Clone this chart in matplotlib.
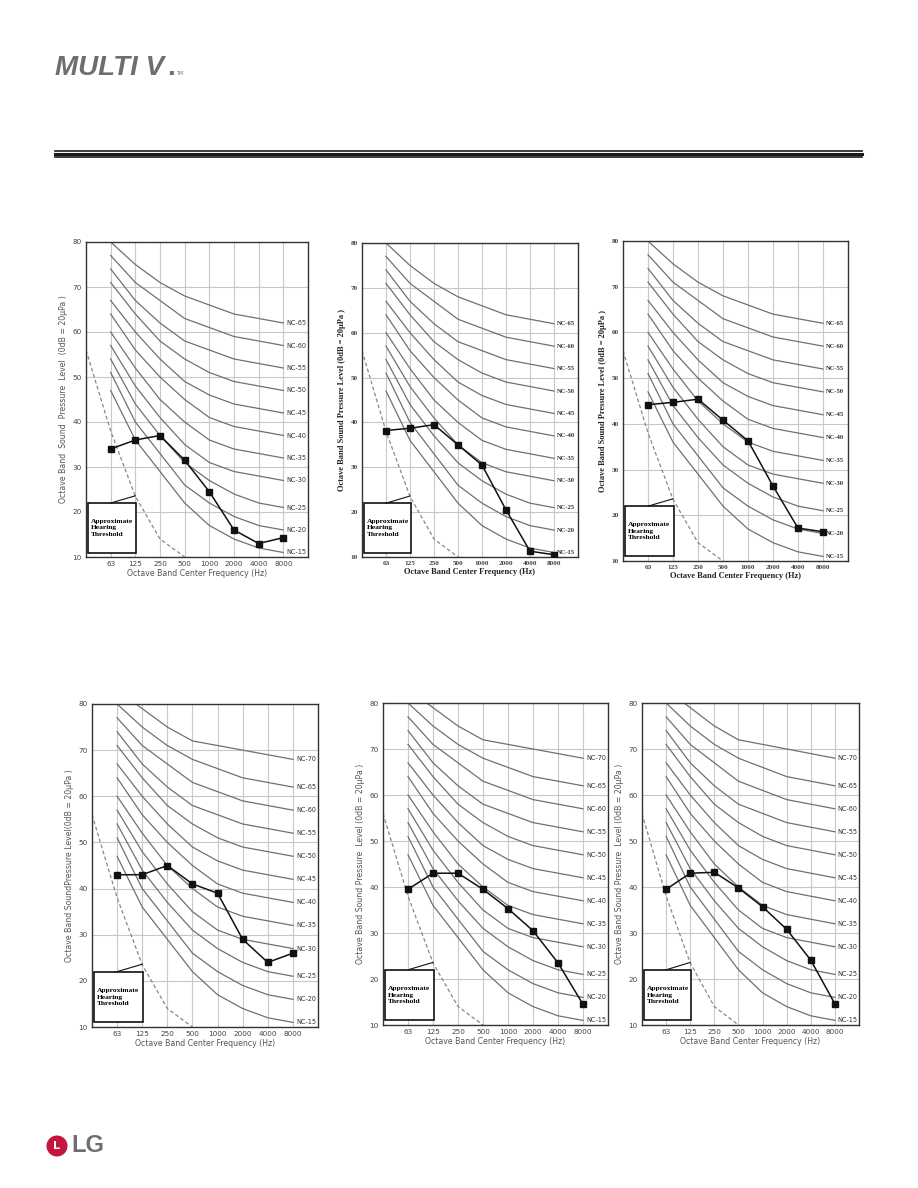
import matplotlib
matplotlib.use("Agg")
import matplotlib.pyplot as plt
from matplotlib.patches import Circle, Rectangle
from matplotlib.lines import Line2D

# ---------------- data ----------------
freq_labels = ['63', '125', '250', '500', '1000', '2000', '4000', '8000']

NC_15 = [47, 36, 29, 22, 17, 14, 12, 11]
NC_20 = [51, 40, 33, 26, 22, 19, 17, 16]
NC_25 = [54, 44, 37, 31, 27, 24, 22, 21]
NC_30 = [57, 48, 41, 35, 31, 29, 28, 27]
NC_35 = [60, 52, 45, 40, 36, 34, 33, 32]
NC_40 = [64, 56, 50, 45, 41, 39, 38, 37]
NC_45 = [67, 60, 54, 49, 46, 44, 43, 42]
NC_50 = [71, 64, 58, 54, 51, 49, 48, 47]
NC_55 = [74, 67, 62, 58, 56, 54, 53, 52]
NC_60 = [77, 71, 67, 63, 61, 59, 58, 57]
NC_65 = [80, 75, 71, 68, 66, 64, 63, 62]
NC_70 = [83, 79, 75, 72, 71, 70, 69, 68]
nc_names = ['NC-15', 'NC-20', 'NC-25', 'NC-30', 'NC-35', 'NC-40',
            'NC-45', 'NC-50', 'NC-55', 'NC-60', 'NC-65', 'NC-70']
nc_curves = [NC_15, NC_20, NC_25, NC_30, NC_35, NC_40,
             NC_45, NC_50, NC_55, NC_60, NC_65, NC_70]

# approximate hearing threshold (left edge, 63, 125, 250, 500 Hz)
threshold_values = [56, 38, 23.5, 14, 10]

unit_1 = [34.0, 36.0, 37.0, 31.5, 24.5, 16.0, 13.0, 14.3]
unit_2 = [38.2, 38.7, 39.5, 35.0, 30.5, 20.5, 11.3, 10.5]
unit_3 = [44.2, 44.7, 45.4, 40.8, 36.3, 26.4, 17.2, 16.4]
unit_4 = [43.0, 43.0, 45.0, 41.0, 39.0, 29.0, 24.0, 26.0]
unit_5 = [39.5, 43.0, 43.0, 39.5, 35.3, 30.5, 23.5, 14.5]
unit_6 = [39.5, 43.0, 43.2, 39.8, 35.7, 30.8, 24.1, 14.6]

y_ticks = [10, 20, 30, 40, 50, 60, 70, 80]

W, H = 918, 1188
fig = plt.figure(figsize=(W / 100, H / 100), dpi=100)


def add_ax(x0, y0, x1, y1):
    return fig.add_axes([x0 / W, 1 - y1 / H, (x1 - x0) / W, (y1 - y0) / H])


def draw_chart(ax, values, n_nc, serif, ylabel):
    fam = 'Liberation Serif' if serif else 'DejaVu Sans'
    wt = 'bold' if serif else 'normal'
    lab_col = '#222222' if serif else '#555555'
    x = list(range(1, len(freq_labels) + 1))
    ax.set_xlim(0, 9)
    ax.set_ylim(10, 80)
    for xv in x:
        ax.axvline(xv, color='#c8c8c8', lw=0.8, zorder=0)
    for yv in y_ticks:
        ax.axhline(yv, color='#c8c8c8', lw=0.8, zorder=0)
    for name, curve in list(zip(nc_names, nc_curves))[:n_nc]:
        ax.plot(x, curve, color='#707070', lw=0.9, zorder=1)
        ax.text(8.12, curve[-1], name, fontsize=4.7, ha='left', va='center',
                family=fam, weight=wt, color='#333333', clip_on=True)
    ax.plot(range(len(threshold_values)), threshold_values, color='#888888',
            lw=0.9, ls=(0, (3, 2)), zorder=1)
    ax.plot(x, values, color='#111111', lw=1.1, marker='s', ms=4.2,
            mfc='#111111', mec='#111111', zorder=3)
    # hearing threshold annotation
    ax.add_patch(Rectangle((0.08, 11), 1.95, 11, facecolor='white',
                           edgecolor='#111111', lw=1.2, zorder=4))
    ax.text(0.2, 16.5, 'Approximate\nHearing\nThreshold', fontsize=5.4,
            family='Liberation Serif', weight='bold', ha='left', va='center',
            linespacing=1.35, zorder=5)
    ax.add_line(Line2D([1.0, 2.0], [22, 23.6], color='#111111', lw=0.8, zorder=4))
    ax.set_xticks(x)
    ax.set_xticklabels(freq_labels)
    ax.set_yticks(y_ticks)
    ax.tick_params(length=0, labelsize=5.2, pad=3, labelcolor='#444444')
    for lbl in ax.get_xticklabels() + ax.get_yticklabels():
        lbl.set_family(fam)
        lbl.set_weight(wt)
    ax.set_xlabel('Octave Band Center Frequency (Hz)', fontsize=6 if serif else 5.6,
                  family=fam, weight=wt, color=lab_col, labelpad=1)
    ax.set_ylabel(ylabel, fontsize=6 if serif else 5.6, family=fam, weight=wt,
                  color=lab_col, labelpad=3)
    for s in ax.spines.values():
        s.set_color('#333333')
        s.set_linewidth(1.0)


charts = [
    ((86, 242, 308, 557), unit_1, 11, False, 'Octave Band  Sound  Pressure  Level  (0dB = 20μPa )'),
    ((362, 243, 578, 557), unit_2, 11, True, 'Octave Band Sound Pressure Level (0dB = 20μPa )'),
    ((623, 241, 848, 561), unit_3, 11, True, 'Octave Band Sound Pressure Level (0dB = 20μPa )'),
    ((92, 704, 318, 1027), unit_4, 12, False, 'Octave Band SoundPressure Level(0dB = 20μPa )'),
    ((383, 703, 608, 1025), unit_5, 12, False, 'Octave Band Sound Pressure  Level (0dB = 20μPa )'),
    ((642, 703, 859, 1025), unit_6, 12, False, 'Octave Band Sound Pressure  Level (0dB = 20μPa )'),
]
for box, vals, n_nc, serif, ylab in charts:
    ax = add_ax(*box)
    draw_chart(ax, vals, n_nc, serif, ylab)

# ---------------- page decorations ----------------
fig.text(55 / W, 1 - 75 / H, 'MULTI V', fontsize=20, weight='bold', style='italic',
         family='Liberation Sans', color='#6d6e71', ha='left', va='baseline')
fig.text(167 / W, 1 - 75 / H, '.', fontsize=20, weight='bold', family='Liberation Sans',
         color='#6d6e71', ha='left', va='baseline')
fig.text(176 / W, 1 - 75 / H, 'TM', fontsize=3.5, color='#6d6e71', ha='left',
         va='baseline')

for yy, lw in [(150.5, 1.2), (153.5, 2.2), (156.5, 1.2)]:
    fig.add_artist(Line2D([55 / W, 862 / W], [1 - yy / H, 1 - yy / H],
                          color='#1a1a1a', lw=lw))

fig.add_artist(Circle((57 / 100, (H - 1146) / 100), 0.105, transform=fig.dpi_scale_trans,
                      facecolor='#c5143e', edgecolor='none'))
fig.text(57 / W, 1 - 1146 / H, 'L', fontsize=8, color='white', weight='bold',
         ha='center', va='center')
fig.text(71 / W, 1 - 1146 / H, 'LG', fontsize=17, weight='bold', family='Liberation Sans',
         color='#6d6e71', ha='left', va='center')

fig.savefig('out.png', dpi=100, facecolor='white')
